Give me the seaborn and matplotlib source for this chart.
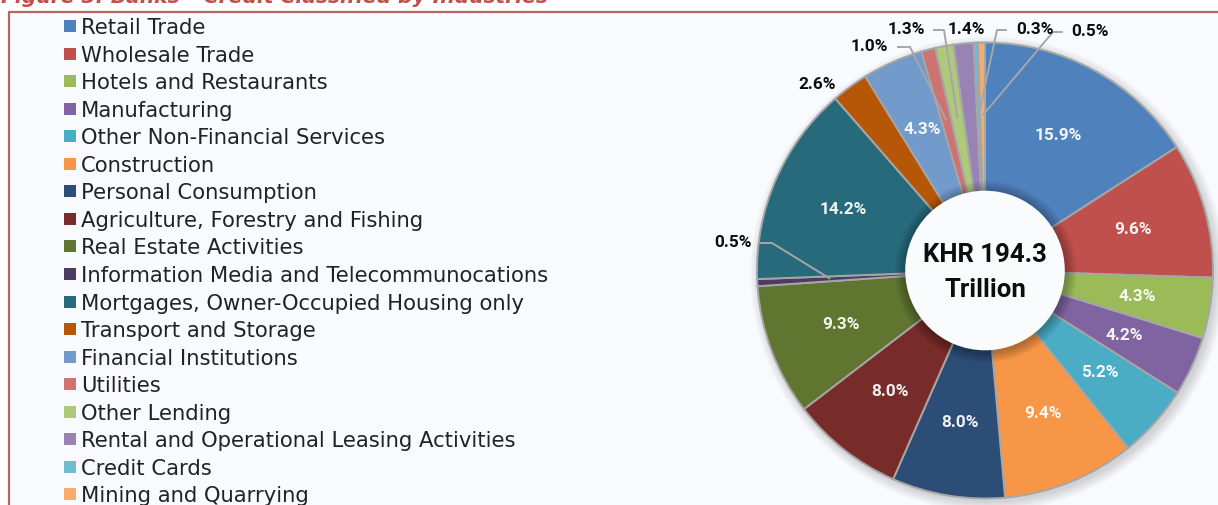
import numpy as np
import matplotlib
matplotlib.use("Agg")
import matplotlib.pyplot as plt
import seaborn as sns
from matplotlib.patches import Rectangle, Circle
from matplotlib.lines import Line2D

sns.set_theme(style="white")
plt.rcParams['font.family'] = ['DejaVu Sans']

# ---------------- data ----------------
categories = [
    "Retail Trade", "Wholesale Trade", "Hotels and Restaurants", "Manufacturing",
    "Other Non-Financial Services", "Construction", "Personal Consumption",
    "Agriculture, Forestry and Fishing", "Real Estate Activities",
    "Information Media and Telecommunocations",
    "Mortgages, Owner-Occupied Housing only", "Transport and Storage",
    "Financial Institutions", "Utilities", "Other Lending",
    "Rental and Operational Leasing Activities", "Credit Cards",
    "Mining and Quarrying",
]
shares = [15.9, 9.6, 4.3, 4.2, 5.2, 9.4, 8.0, 8.0, 9.3, 0.5, 14.2, 2.6,
          4.3, 1.0, 1.3, 1.4, 0.3, 0.5]
colors = ["#4F81BD", "#C0504D", "#9BBB59", "#8064A2", "#4BACC6", "#F79646",
          "#2C4D75", "#772C2A", "#5F7530", "#4D3B62", "#276A7C", "#B65708",
          "#729ACA", "#CD7371", "#AFC97A", "#9983B5", "#6FBDD1", "#F9AB6B"]
center_text = "KHR 194.3\nTrillion"
title_text = "Figure 3: Banks – Credit Classified by Industries"

# ---------------- layout ----------------
W, H = 1218, 505
fig = plt.figure(figsize=(W / 100, H / 100), dpi=100)
fig.patch.set_facecolor("white")

def fx(px):
    return px / W

def fy(py):
    return 1 - py / H

bg = "#F9FAFD"
frame_col = "#B86462"
fig.patches.append(Rectangle((fx(9), 0), 1 - fx(9), fy(12), transform=fig.transFigure,
                             facecolor=bg, edgecolor="none", zorder=-5))
fig.lines.append(Line2D([fx(9), 1], [fy(12), fy(12)], transform=fig.transFigure,
                        color=frame_col, lw=1.6, zorder=-4))
fig.lines.append(Line2D([fx(9), fx(9)], [0, fy(12)], transform=fig.transFigure,
                        color=frame_col, lw=1.6, zorder=-4))

renderer = fig.canvas.get_renderer()

def fit_text(t, target_w):
    bb = t.get_window_extent(renderer=renderer)
    t.set_fontsize(t.get_fontsize() * target_w / bb.width)

# title (top cut off as in reference)
tt = fig.text(fx(1), fy(3), title_text, fontsize=13, fontweight="bold",
              fontstyle="italic", color="#C0504D", va="baseline", ha="left")
fit_text(tt, 547)

# legend
row0, step = 26, 27.55
leg_texts = []
for i, (cat, col) in enumerate(zip(categories, colors)):
    yc = row0 + step * i
    fig.patches.append(Rectangle((fx(64), fy(yc + 6)), 12 / W, 12 / H,
                                 transform=fig.transFigure, facecolor=col,
                                 edgecolor="none"))
    t = fig.text(fx(81), fy(yc), cat, fontsize=13.2, color="#222222",
                 va="center_baseline", ha="left")
    leg_texts.append(t)
bb = leg_texts[9].get_window_extent(renderer=renderer)
fs = 13.2 * 468 / bb.width
for t in leg_texts:
    t.set_fontsize(fs)

# pie axes: centre (985, 270.5), radius 228 px
cx, cy, R = 985, 270.5, 228
span = 1.35
ax = fig.add_axes([fx(cx - span * R), fy(cy + span * R), 2 * span * R / W, 2 * span * R / H])
ax.set_zorder(2)
ax.patch.set_visible(False)

wedges, _ = ax.pie(shares, colors=colors, startangle=90, counterclock=False,
                   radius=1.0,
                   wedgeprops=dict(edgecolor="#A6A6A6", linewidth=1.4, zorder=2))
ax.set_xlim(-span, span)
ax.set_ylim(-span, span)
ax.set_aspect("equal")
ax.axis("off")

# soft outer shadow
for k in range(8):
    ax.add_patch(Circle((0.014, -0.016), 1.0 + 0.006 * k, facecolor="black",
                        alpha=0.02, edgecolor="none", zorder=0))

# hole with drop shadow
hole_r = 0.35
for k in range(8):
    ax.add_patch(Circle((0.004, -0.006), hole_r + 0.006 * (8 - k), facecolor="black",
                        alpha=0.035, edgecolor="none", zorder=5))
ax.add_patch(Circle((0, 0), hole_r, facecolor="#FAFBFD", edgecolor="none", zorder=6))
ax.text(0, 0.07, center_text.split("\n")[0], ha="center", va="center", zorder=7,
        fontsize=18.5, fontweight="bold", color="#0D0D0D", family="Roboto")
ax.text(0, -0.085, center_text.split("\n")[1], ha="center", va="center", zorder=7,
        fontsize=18.5, fontweight="bold", color="#0D0D0D", family="Roboto")

# labels
cum = np.cumsum([0] + shares[:-1])
mids = 90 - 3.6 * (cum + np.array(shares) / 2)

def px2d(px, py):
    return (px - cx) / R, (cy - py) / R

lab_font = dict(fontsize=12.4, fontweight="bold", family="Roboto", zorder=8)
# external label placement: index -> (label pixel pos, elbow pixel x, line start pixel x)
external = {
    9: ((733, 243), 760, 772),
    11: ((817, 85), None, None),
    13: ((869, 47), 897, 910),
    14: ((906, 30), 933, 944),
    15: ((966, 30), None, None),
    16: ((1035, 30), 1007, 997),
    17: ((1090, 32), 1063, 1053),
}
for i, (v, m) in enumerate(zip(shares, mids)):
    lab = f"{v:.1f}%"
    th = np.deg2rad(m)
    if i in external:
        (lx, ly), x0, x1 = external[i]
        tx, ty = px2d(lx, ly)
        ax.text(tx, ty, lab, ha="center", va="center", color="#0D0D0D", **lab_font)
        if x0 is not None:
            r_end = 0.68
            ex, ey = r_end * np.cos(th), r_end * np.sin(th)
            a = px2d(x0, ly)
            b = px2d(x1, ly)
            ax.plot([a[0], b[0], ex], [a[1], b[1], ey], color="#A6A6A6", lw=1.4,
                    zorder=7, solid_capstyle="butt")
    else:
        r_lab = 0.675
        ax.text(r_lab * np.cos(th), r_lab * np.sin(th), lab, ha="center",
                va="center", color="white", alpha=0.93, **lab_font)

fig.savefig("out.png", dpi=100, facecolor=fig.get_facecolor())
